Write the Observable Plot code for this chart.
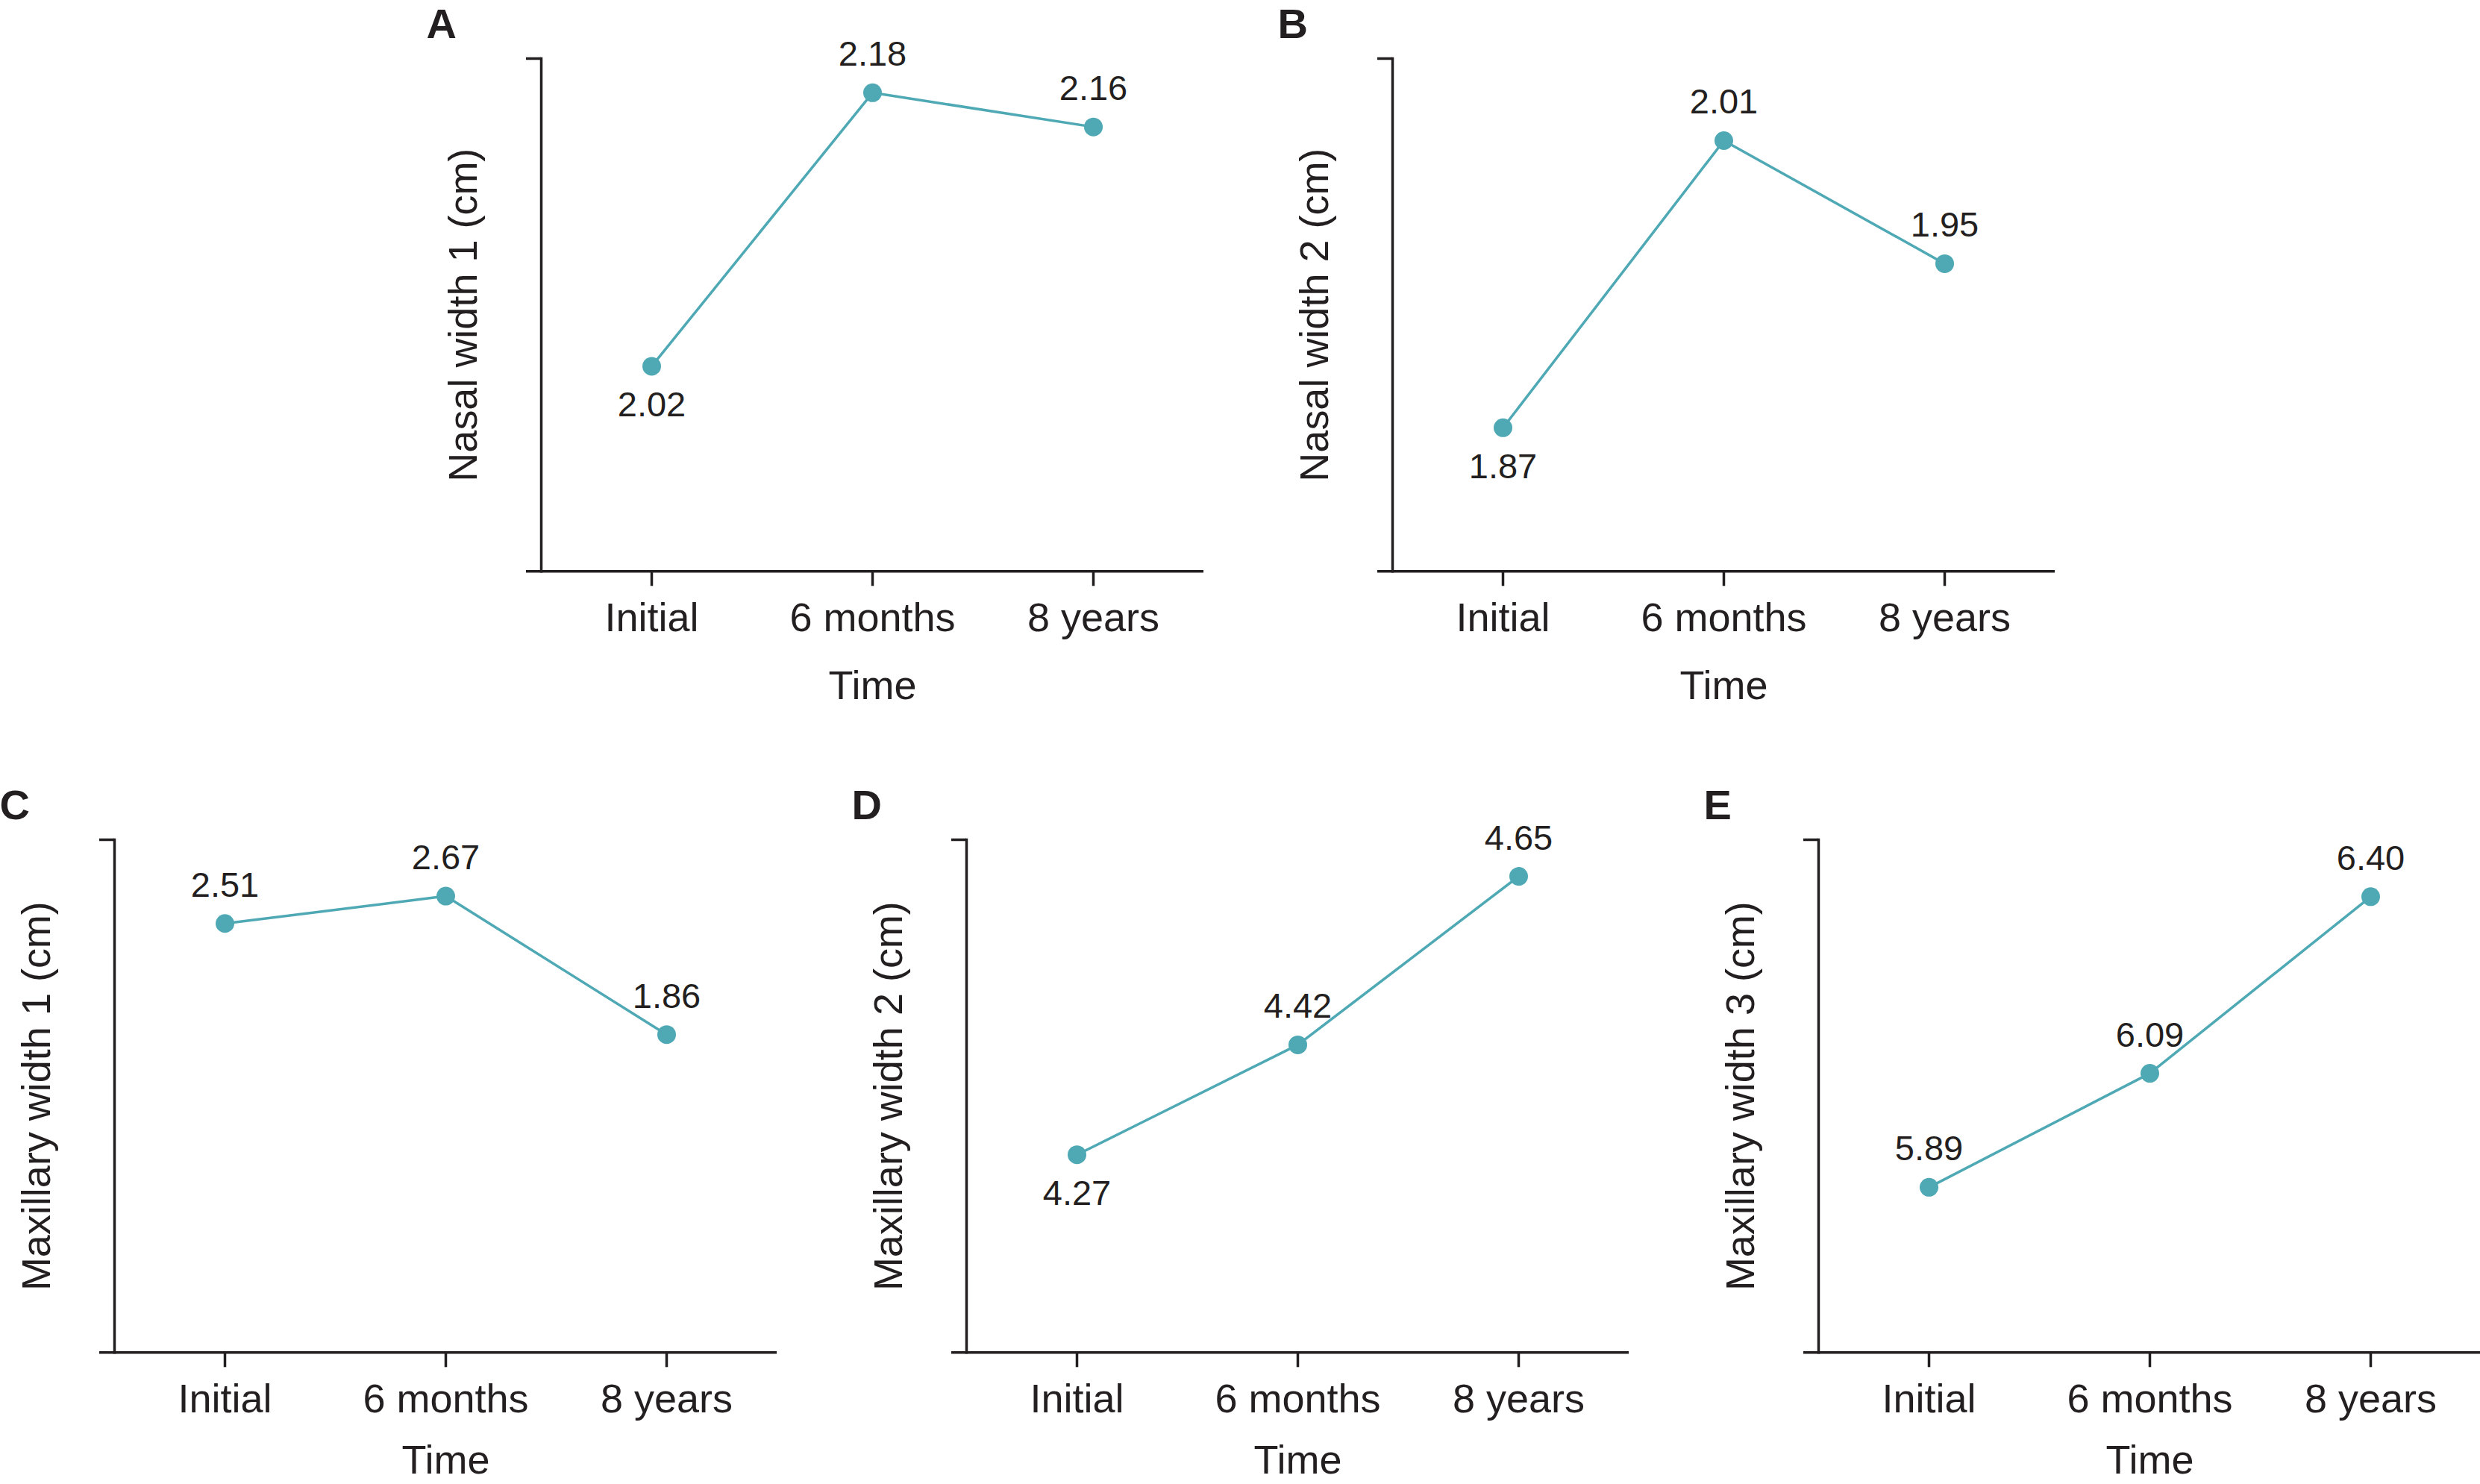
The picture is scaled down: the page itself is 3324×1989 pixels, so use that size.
<!DOCTYPE html>
<html><head><meta charset="utf-8">
<script src="https://cdn.jsdelivr.net/npm/d3@7"></script>
<script src="https://cdn.jsdelivr.net/npm/@observablehq/plot@0.6"></script>
<style>
html,body{margin:0;padding:0;background:#fff;overflow:hidden}
#root{position:relative;width:3324px;height:1989px;background:#fff;overflow:hidden}
#root > .panel{position:absolute}
#root svg{overflow:visible;max-width:none !important;display:block}
</style></head><body><div id="root"></div>
<script>
// ---- data ----
const times = ["Initial", "6 months", "8 years"];
const panelLetters = ["A", "B", "C", "D", "E"];
const yLabels = ["Nasal width 1 (cm)", "Nasal width 2 (cm)", "Maxillary width 1 (cm)", "Maxillary width 2 (cm)", "Maxillary width 3 (cm)"];
const nasalWidth1 = [2.02, 2.18, 2.16];
const nasalWidth2 = [1.87, 2.01, 1.95];
const maxillaryWidth1 = [2.51, 2.67, 1.86];
const maxillaryWidth2 = [4.27, 4.42, 4.65];
const maxillaryWidth3 = [5.89, 6.09, 6.40];
const yDomains = [[1.9, 2.2], [1.8, 2.05], [0, 3], [4.0, 4.7], [5.6, 6.5]];
const xLabel = "Time";

// ---- layout / style ----
const series = [nasalWidth1, nasalWidth2, maxillaryWidth1, maxillaryWidth2, maxillaryWidth3];
const layout = [
  {axisX: 724.5, frameTop: 77.7, below: [0], xLabelOffset: 171},
  {axisX: 1866, frameTop: 77.7, below: [0], xLabelOffset: 171},
  {axisX: 153, frameTop: 1125, below: [], xLabelOffset: 162},
  {axisX: 1295, frameTop: 1125, below: [0], xLabelOffset: 162},
  {axisX: 2437, frameTop: 1125, below: [], xLabelOffset: 162}
];
const INK = "#231f20", TEAL = "#4fa9b5";
const FONT = "'Liberation Sans', Arial, Helvetica, sans-serif";
const ML = 170, MR = 12, MT = 78, MB = 200, PW = 888, PH = 687.3;

function panel(i) {
  const data = times.map((t, j) => ({time: t, value: series[i][j], below: layout[i].below.includes(j)}));
  const [y0, y1] = yDomains[i];
  return Plot.plot({
    width: ML + PW + MR, height: MT + PH + MB,
    marginLeft: ML, marginRight: MR, marginTop: MT, marginBottom: MB,
    style: {fontFamily: FONT, fontSize: "54px", color: INK, background: "transparent", overflow: "visible"},
    x: {type: "point", domain: times, padding: 0.5, axis: null},
    y: {domain: [y0, y1], axis: null},
    marks: [
      Plot.ruleY([y0], {stroke: INK, strokeWidth: 3.5, insetLeft: -20}),
      Plot.frame({anchor: "left", stroke: INK, strokeWidth: 3.5}),
      Plot.axisY([y1], {tickSize: 20, tickFormat: () => "", stroke: INK, strokeWidth: 3.5, fill: INK, fontSize: 54,
        label: yLabels[i], labelAnchor: "center", labelOffset: 125, labelArrow: "none"}),
      Plot.axisX({tickSize: 20, tickPadding: 22, stroke: INK, strokeWidth: 3.5, fill: INK, fontSize: 54,
        label: xLabel, labelAnchor: "center", labelOffset: layout[i].xLabelOffset, labelArrow: "none"}),
      Plot.line(data, {x: "time", y: "value", stroke: TEAL, strokeWidth: 3.5}),
      Plot.dot(data, {x: "time", y: "value", r: 12.5, fill: TEAL, stroke: "none"}),
      Plot.text(data.filter(d => !d.below), {x: "time", y: "value", text: d => d.value.toFixed(2),
        lineAnchor: "bottom", dy: -36, fontSize: 47, fill: INK}),
      Plot.text(data.filter(d => d.below), {x: "time", y: "value", text: d => d.value.toFixed(2),
        lineAnchor: "top", dy: 34, fontSize: 47, fill: INK}),
      Plot.text([panelLetters[i]], {frameAnchor: "top-left", text: d => d, dx: -154, dy: -27,
        lineAnchor: "bottom", textAnchor: "start", fontSize: 56, fontWeight: "bold", fill: INK})
    ]
  });
}

const root = document.getElementById("root");
series.forEach((s, i) => {
  const div = document.createElement("div");
  div.className = "panel";
  div.style.left = (layout[i].axisX - ML) + "px";
  div.style.top = (layout[i].frameTop - MT) + "px";
  div.style.width = (ML + PW + MR) + "px";
  div.style.height = (MT + PH + MB) + "px";
  div.appendChild(panel(i));
  root.appendChild(div);
});
</script></body></html>
